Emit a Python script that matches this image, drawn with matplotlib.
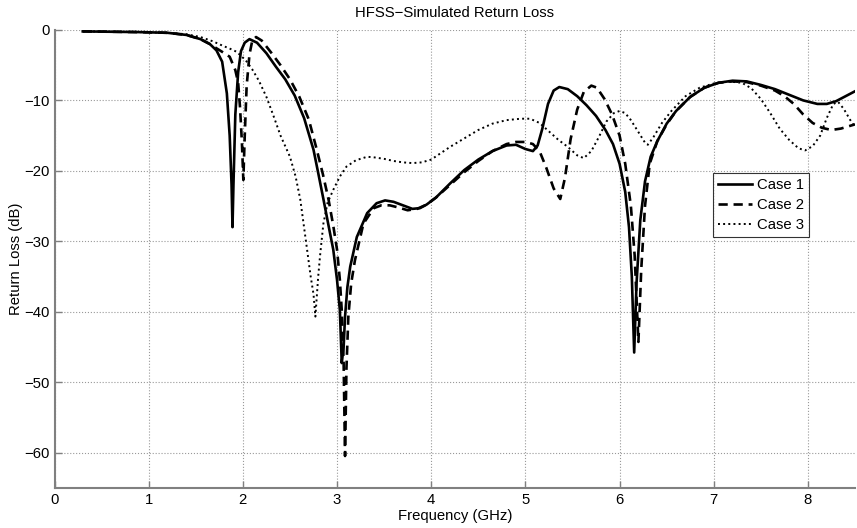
import matplotlib
matplotlib.use("Agg")
from matplotlib import pyplot as plt

# Case 1 (solid)
f1 = [0.3, 0.6, 0.9, 1.2, 1.4, 1.55, 1.65, 1.72, 1.78, 1.83, 1.86, 1.88, 1.89, 1.90, 1.92, 1.95,
      1.98, 2.02, 2.07, 2.15, 2.25, 2.35, 2.45, 2.55, 2.65, 2.75, 2.8, 2.855, 2.91, 2.96, 3.0,
      3.03, 3.05, 3.07, 3.085, 3.11, 3.14, 3.21, 3.32, 3.42, 3.51, 3.6, 3.7, 3.8, 3.88, 3.95, 4.05,
      4.2, 4.35, 4.5, 4.65, 4.8, 4.9, 5.0, 5.08, 5.13, 5.18, 5.24, 5.3, 5.36, 5.45, 5.55, 5.65,
      5.75, 5.85, 5.93, 6.0, 6.06, 6.1, 6.13, 6.155, 6.18, 6.22, 6.27, 6.33, 6.4, 6.5, 6.6, 6.75,
      6.9, 7.05, 7.2, 7.35, 7.5, 7.65, 7.8, 7.95, 8.1, 8.2, 8.3, 8.4, 8.5]
rl1 = [-0.2, -0.25, -0.3, -0.4, -0.7, -1.3, -2.0, -2.9, -4.5, -9, -15, -22, -28, -22, -12, -6,
       -3, -1.8, -1.3, -1.8, -3.3, -5.2, -7.0, -9.3, -12.5, -17, -20.3, -24, -27.8, -31.2, -35.5,
       -39.8, -47.3, -45, -40.7, -36.5, -33.6, -29.4, -26.0, -24.6, -24.2, -24.4, -24.9, -25.4, -25.3, -24.8, -23.8,
       -21.8, -19.9, -18.4, -17.2, -16.4, -16.3, -16.9, -17.2, -16.4, -14.0, -10.5, -8.6, -8.1, -8.4, -9.4, -10.7,
       -12.2, -14.2, -16.2, -19, -23, -28, -35, -45.8, -36, -27, -21.5, -18, -15.8, -13.3, -11.5, -9.5,
       -8.2, -7.5, -7.2, -7.3, -7.8, -8.4, -9.2, -10.0, -10.5, -10.5, -10.1, -9.4, -8.7]

# Case 2 (dashed)
f2 = [0.3, 0.6, 0.9, 1.2, 1.4, 1.55, 1.65, 1.72, 1.78, 1.86, 1.92, 1.95, 1.97, 1.99, 2.005, 2.02,
      2.04, 2.07, 2.1, 2.14, 2.2, 2.3, 2.4, 2.5, 2.6, 2.7, 2.785, 2.85, 2.91, 2.96, 3.0, 3.03,
      3.05, 3.07, 3.085, 3.1, 3.12, 3.15, 3.19, 3.28, 3.39, 3.47, 3.56, 3.65, 3.75, 3.85, 3.95, 4.05,
      4.2, 4.35, 4.5, 4.65, 4.8, 4.9, 5.0, 5.08, 5.15, 5.22, 5.3, 5.37, 5.42, 5.48, 5.55, 5.62,
      5.7, 5.76, 5.84, 5.92, 6.0, 6.06, 6.12, 6.16, 6.2, 6.23, 6.27, 6.32, 6.4, 6.5, 6.6, 6.75,
      6.9, 7.05, 7.2, 7.35, 7.5, 7.65, 7.75, 7.85, 7.95, 8.05, 8.15, 8.25, 8.35, 8.45, 8.5]
rl2 = [-0.2, -0.25, -0.3, -0.4, -0.7, -1.3, -2.0, -2.6, -3.1, -3.8, -5.7, -7.5, -11, -16, -21.3, -15,
       -8, -3.5, -1.5, -1.0, -1.5, -3.2, -5.0, -7.0, -9.5, -12.7, -17, -20.5, -24.1, -27.8, -31.2, -35.5,
       -39.8, -47.3, -60.5, -48, -40.7, -36, -32.7, -27.5, -25.3, -24.9, -24.9, -25.2, -25.6, -25.4, -24.8, -23.8,
       -22, -20.2, -18.6, -17.2, -16.2, -15.9, -15.9, -16.2, -17.2, -19.5, -22.5, -24, -21, -15.5, -11.3, -8.8,
       -7.9, -8.2, -9.8, -12, -15, -19, -25, -32, -44.3, -34, -25, -19, -15.8, -13.4, -11.5, -9.5,
       -8.2, -7.5, -7.3, -7.4, -7.9, -8.6, -9.4, -10.5, -12, -13.2, -13.9, -14.2, -14.0, -13.6, -13.4]

# Case 3 (dotted)
f3 = [0.3, 0.6, 0.9, 1.2, 1.4, 1.55, 1.68, 1.78, 1.87, 1.935, 2.03, 2.1, 2.17, 2.25, 2.32, 2.4,
      2.5, 2.56, 2.61, 2.68, 2.72, 2.75, 2.77, 2.8, 2.82, 2.855, 2.9, 2.96, 3.03, 3.1, 3.2, 3.32,
      3.4, 3.5, 3.6, 3.7, 3.8, 3.9, 4.0, 4.1, 4.2, 4.35, 4.5, 4.65, 4.8, 4.95, 5.05, 5.15, 5.25, 5.35,
      5.45, 5.55, 5.62, 5.7, 5.78, 5.86, 5.94, 6.0, 6.06, 6.12, 6.2, 6.27, 6.3, 6.36, 6.45, 6.55,
      6.7, 6.85, 7.0, 7.15, 7.3, 7.4, 7.5, 7.6, 7.7, 7.8, 7.9, 7.97, 8.05, 8.13, 8.2, 8.27, 8.32,
      8.38, 8.45, 8.5]
rl3 = [-0.2, -0.25, -0.3, -0.4, -0.6, -1.0, -1.6, -2.2, -2.7, -3.1, -4.3, -5.6, -7.2, -9.5, -12, -15,
       -18, -20.8, -24.1, -31, -35, -37.5, -40.7, -35, -32, -27.5, -24.5, -22.7, -20.8, -19.4, -18.5, -18.0,
       -18.1, -18.3, -18.6, -18.8, -18.9, -18.8, -18.4, -17.5, -16.6, -15.4, -14.2, -13.3, -12.8, -12.6, -12.6, -13.2, -14.4, -15.6,
       -16.6, -17.8, -18.2, -17.2, -15.2, -13.0, -11.8, -11.5, -11.8, -12.8, -14.5, -16.0, -16.3, -15.2, -13.2, -11.5,
       -9.4, -8.2, -7.6, -7.3, -7.5, -8.3, -9.8, -11.8, -14.0, -15.6, -16.8, -17.1, -16.5, -15.0, -12.5, -10.5, -10.2,
       -11.2, -12.8, -13.8]

plt.rcParams['font.family'] = ['Liberation Sans', 'DejaVu Sans']
plt.rcParams['font.size'] = 10.7

fig = plt.figure(figsize=(8.57, 5.28), dpi=100)
ax = fig.add_axes([0.0636, 0.0763, 0.9341, 0.8669])

ax.plot(f1, rl1, 'k-', lw=1.9, label='Case 1')
ax.plot(f2, rl2, 'k--', lw=1.9, dashes=(3.5, 2.2), label='Case 2')
ax.plot(f3, rl3, 'k:', lw=1.4, label='Case 3')

ax.set_xlim(0, 8.5)
ax.set_ylim(-65, 0)
ax.set_xticks(range(0, 9))
ax.set_yticks(range(-60, 1, 10))
ax.set_yticklabels(['\u221260', '\u221250', '\u221240', '\u221230', '\u221220', '\u221210', '0'])

# grid and axis styling
ax.grid(True, linestyle=':', color='#999999', lw=0.8)
for s in ['top', 'right']:
    ax.spines[s].set_visible(False)
for s in ['bottom', 'left']:
    ax.spines[s].set_color('#808080')
    ax.spines[s].set_linewidth(1.5)
ax.tick_params(direction='in', length=5, color='#808080', width=1)

ax.set_title('HFSS\u2212Simulated Return Loss', fontsize=10.7, pad=9)
ax.set_xlabel('Frequency (GHz)', labelpad=2)
ax.set_ylabel('Return Loss (dB)', labelpad=1)

leg = ax.legend(loc='upper right', bbox_to_anchor=(0.9425, 0.6876), fancybox=False,
                edgecolor='black', handlelength=2.3, handletextpad=0.3, borderpad=0.35,
                labelspacing=0.4, borderaxespad=0)
leg.get_frame().set_linewidth(0.8)

plt.savefig('out.png', dpi=100)
